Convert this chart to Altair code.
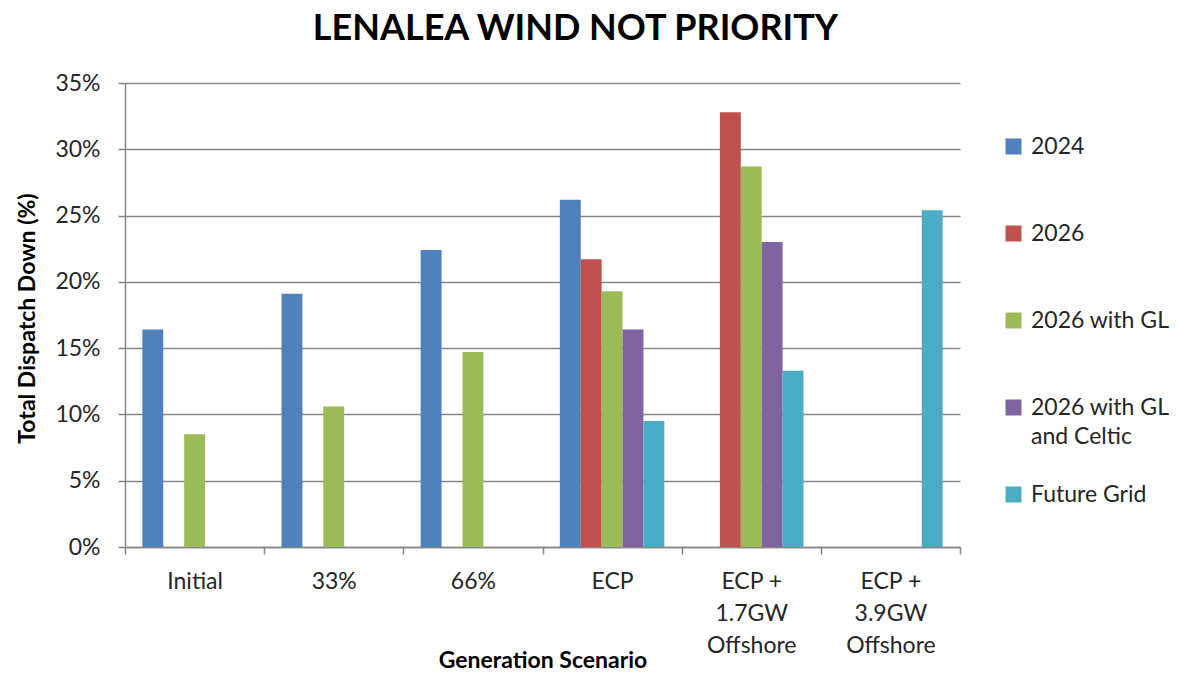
import altair as alt
import pandas as pd

scenarios = ["Initial", "33%", "66%", "ECP", "ECP + 1.7GW Offshore", "ECP + 3.9GW Offshore"]
series = ["2024", "2026", "2026 with GL", "2026 with GL and Celtic", "Future Grid"]
colors = ["#4F81BD", "#C0504D", "#9BBB59", "#8064A2", "#4BACC6"]

v_2024 = [16.4, 19.1, 22.4, 26.2, None, None]
v_2026 = [None, None, None, 21.7, 32.8, None]
v_gl = [8.5, 10.6, 14.7, 19.3, 28.7, None]
v_celtic = [None, None, None, 16.4, 23.0, None]
v_fg = [None, None, None, 9.5, 13.3, 25.4]

rows = []
for s, vals in zip(series, [v_2024, v_2026, v_gl, v_celtic, v_fg]):
    for sc, v in zip(scenarios, vals):
        if v is not None:
            rows.append({"scenario": sc, "series": s, "value": v})
df = pd.DataFrame(rows)

FONT = "Lato"

x_label_expr = (
    "datum.label == 'ECP + 1.7GW Offshore' ? ['ECP +', '1.7GW', 'Offshore'] : "
    "datum.label == 'ECP + 3.9GW Offshore' ? ['ECP +', '3.9GW', 'Offshore'] : datum.label"
)
legend_label_expr = (
    "datum.label == '2026 with GL and Celtic' ? ['2026 with GL', 'and Celtic'] : [datum.label, ' ']"
)

chart = alt.Chart(df).mark_bar().encode(
    x=alt.X(
        "scenario:N",
        sort=scenarios,
        scale=alt.Scale(domain=scenarios, paddingInner=0, paddingOuter=0),
        axis=alt.Axis(
            title="Generation Scenario",
            titleFont=FONT, titleFontSize=23, titleFontWeight="bold", titleColor="#000000",
            titleY=120, titleBaseline="alphabetic",
            labelFont=FONT, labelFontSize=23, labelColor="#262626",
            labelExpr=x_label_expr, labelLineHeight=32, labelAngle=0,
            labelPadding=16, labelBaseline="top",
            tickBand="extent", tickSize=7, tickColor="#868686", tickWidth=1.5,
            domainColor="#868686", domainWidth=1.5,
        ),
    ),
    xOffset=alt.XOffset(
        "series:N",
        sort=series,
        scale=alt.Scale(domain=series, paddingInner=0, paddingOuter=0.83),
    ),
    y=alt.Y(
        "value:Q",
        scale=alt.Scale(domain=[0, 35], nice=False),
        axis=alt.Axis(
            title="Total Dispatch Down (%)",
            titleFont=FONT, titleFontSize=23, titleFontWeight="bold", titleColor="#000000",
            titleX=-98, titleY=235, titleAngle=-90, titleBaseline="middle",
            values=[0, 5, 10, 15, 20, 25, 30, 35],
            labelExpr="datum.value + '%'",
            labelFont=FONT, labelFontSize=23, labelColor="#262626", labelPadding=18,
            tickSize=7, tickColor="#868686", tickWidth=1.5,
            domainColor="#868686", domainWidth=1.5,
            gridColor="#868686", gridWidth=1.5,
        ),
    ),
    color=alt.Color(
        "series:N",
        sort=series,
        scale=alt.Scale(domain=series, range=colors),
        legend=alt.Legend(
            title=None, orient="none", legendX=877, legendY=52,
            symbolType="square", symbolSize=256, symbolStrokeWidth=0,
            labelFont=FONT, labelFontSize=23, labelColor="#262626",
            labelExpr=legend_label_expr, labelOffset=6,
            rowPadding=34, labelLimit=300,
        ),
    ),
).properties(
    width=835,
    height=464,
    title=alt.TitleParams(
        "LENALEA WIND NOT PRIORITY",
        font=FONT, fontSize=36, fontWeight="bold", color="#000000",
        anchor="middle", offset=24, dx=33,
    ),
    autosize=alt.AutoSizeParams(type="none"),
    padding={"left": 117, "top": 75, "right": 212, "bottom": 126},
).configure(
    style={"guide-label": {"lineHeight": 29}}
).configure_view(stroke=None)

chart.save("out.html", embed_options={"renderer": "svg", "actions": False})
